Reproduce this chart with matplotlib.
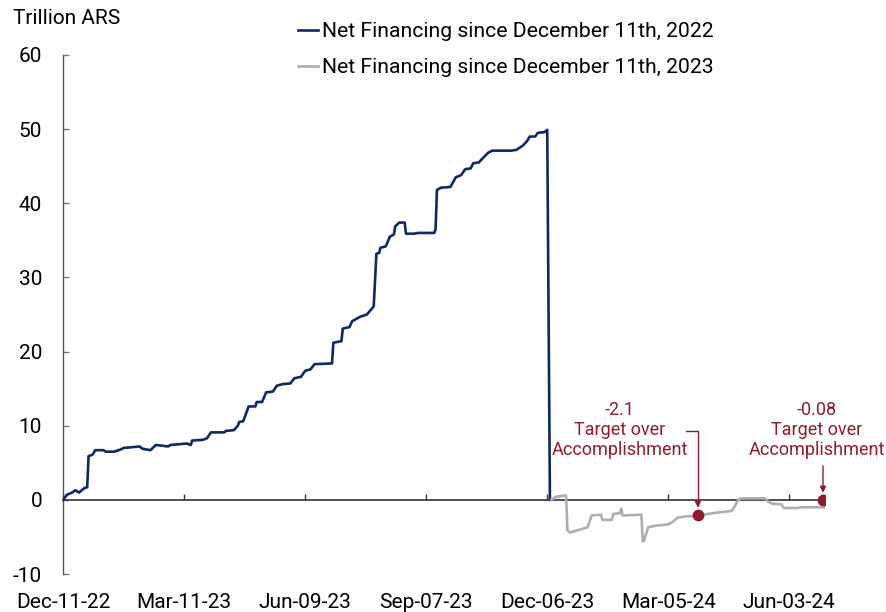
import matplotlib
matplotlib.use("Agg")
import matplotlib.pyplot as plt
import matplotlib.dates as mdates
import pandas as pd

plt.rcParams['font.family'] = ['Roboto', 'DejaVu Sans']
plt.rcParams['axes.unicode_minus'] = False

base_date = "2022-12-11"

# Series 1: Net financing since Dec 11th, 2022 (day offsets from base_date, trillion ARS)
blue_days = [0, 3, 7, 9, 12, 16, 18, 19, 22, 24, 30, 32, 38, 43, 45, 57, 59, 65, 69, 74,
             78, 80, 92, 95, 96, 104, 107, 110, 120, 121, 127, 130, 131, 134, 136, 138, 143, 144, 148, 151,
             156, 159, 163, 169, 172, 177, 180, 184, 187, 200, 201, 207, 208, 213, 215, 221, 226, 231, 233, 235,
             236, 240, 243, 246, 247, 250, 254, 255, 261, 264, 276, 277, 278, 281, 288, 292, 296, 299, 303, 305,
             309, 316, 319, 333, 337, 342, 345, 347, 351, 353, 358, 360, 362]
blue_vals = [0.0, 0.7, 1.0, 1.3, 1.0, 1.6, 1.7, 5.9, 6.1, 6.7, 6.7, 6.5, 6.5, 6.8, 7.0, 7.2, 6.9, 6.7, 7.4, 7.3,
             7.2, 7.4, 7.6, 7.4, 8.0, 8.1, 8.3, 9.1, 9.1, 9.3, 9.4, 10.0, 10.5, 10.6, 11.6, 12.6, 12.6, 13.2, 13.2, 14.5,
             14.6, 15.4, 15.6, 15.7, 16.4, 16.6, 17.4, 17.6, 18.3, 18.4, 21.2, 21.4, 23.1, 23.3, 24.1, 24.7, 25.0, 26.1, 33.2, 33.3,
             34.0, 34.2, 35.5, 35.8, 36.9, 37.4, 37.4, 35.9, 35.9, 36.0, 36.0, 36.5, 41.8, 42.1, 42.2, 43.5, 43.8, 44.6, 44.7, 45.4,
             45.5, 46.8, 47.1, 47.1, 47.2, 47.8, 48.4, 49.0, 49.0, 49.5, 49.6, 49.9, 0.0]

# Series 2: Net financing since Dec 11th, 2023
gray_days = [363, 367, 374, 375, 377, 390, 393, 400, 401, 408, 409, 414, 415, 416, 430, 431, 432, 435, 440, 450,
             453, 457, 462, 472, 479, 487, 497, 499, 502, 504, 522, 524, 527, 534, 536, 546, 549, 566]
gray_vals = [0.0, 0.45, 0.6, -4.1, -4.4, -3.7, -2.1, -2.0, -2.7, -2.7, -1.9, -1.8, -1.2, -2.1, -2.0, -5.6, -5.5, -3.7, -3.5, -3.3,
             -3.0, -2.4, -2.25, -2.16, -1.9, -1.7, -1.5, -1.0, 0.0, 0.2, 0.2, -0.2, -0.5, -0.6, -1.1, -1.1, -1.0, -1.0]

# Targets
target_days = [472, 565]
target_vals = [-2.1, -0.08]
target_labels = ["-2.1\nTarget over\nAccomplishment", "-0.08\nTarget over\nAccomplishment"]

tick_days = [0, 90, 180, 270, 360, 450, 540]
tick_labels = ["Dec-11-22", "Mar-11-23", "Jun-09-23", "Sep-07-23", "Dec-06-23", "Mar-05-24", "Jun-03-24"]

legend_labels = ["Net Financing since December 11th, 2022", "Net Financing since December 11th, 2023"]

NAVY = "#0d2a66"
GRAY = "#aeaeae"
RED = "#921a2f"

b0 = pd.Timestamp(base_date)
to_date = lambda d: b0 + pd.to_timedelta(d, unit="D")
blue_x = [to_date(d) for d in blue_days]
gray_x = [to_date(d) for d in gray_days]
target_x = [to_date(d) for d in target_days]
tick_x = [to_date(d) for d in tick_days]

fig = plt.figure(figsize=(8.86, 6.12), dpi=100)
ax = fig.add_axes([63/886, 1-574/612, (825-63)/886, (574-55)/612])

l1, = ax.plot(blue_x, blue_vals, color=NAVY, lw=1.9, solid_joinstyle='round', zorder=3)
l2, = ax.plot(gray_x, gray_vals, color=GRAY, lw=1.9, solid_joinstyle='round', zorder=3)

ax.set_ylim(-10, 60)
ax.set_yticks(range(-10, 61, 10))
ax.set_xlim(to_date(0), to_date(566.5))

for s in ['top', 'right']:
    ax.spines[s].set_visible(False)
ax.spines['left'].set_color('#555555')
ax.spines['left'].set_linewidth(1.0)
ax.spines['bottom'].set_position(('data', 0))
ax.spines['bottom'].set_color('#333333')
ax.spines['bottom'].set_linewidth(1.2)
ax.spines['bottom'].set_zorder(2)

ax.set_xticks(tick_x)
ax.tick_params(axis='x', direction='in', length=4.5, width=1.0, color='#333333', labelbottom=False)
ax.tick_params(axis='y', direction='in', length=4.5, width=1.0, color='#777777', pad=15, labelsize=15)

sec = ax.secondary_xaxis('bottom')
sec.spines['bottom'].set_visible(False)
sec.set_xticks(mdates.date2num(tick_x), labels=tick_labels)
sec.tick_params(length=0, pad=14, labelsize=15)

# target markers and annotations
ax.plot(target_x, target_vals, 'o', color=RED, ms=7.5, zorder=5, linestyle='none')

ax.text(to_date(414), 9.4, target_labels[0], color=RED, fontsize=13, ha='center', va='center',
        linespacing=1.15)
ax.annotate("", xy=(target_x[0], target_vals[0]), xycoords='data',
            xytext=(-8.6, 61), textcoords='offset points',
            arrowprops=dict(arrowstyle='-|>', color=RED, lw=1.0, shrinkA=0, shrinkB=5.5,
                            mutation_scale=9,
                            connectionstyle='angle,angleA=0,angleB=90,rad=0'))

ax.text(to_date(560.5), 9.4, target_labels[1], color=RED, fontsize=13, ha='center', va='center',
        linespacing=1.15)
ax.annotate("", xy=(target_x[1], target_vals[1]), xycoords='data',
            xytext=(0, 25), textcoords='offset points',
            arrowprops=dict(arrowstyle='-|>', color=RED, lw=1.0, shrinkA=0, shrinkB=5.5,
                            mutation_scale=9))

fig.text(13/886, 1-19/612, "Trillion ARS", fontsize=15, ha='left', va='center')

fig.legend([l1, l2], legend_labels, loc='upper left', bbox_to_anchor=(298/886, 1-22/612),
           frameon=False, fontsize=15.2, handlelength=0.95, handletextpad=0.2,
           labelspacing=0.8, borderpad=0, borderaxespad=0)

fig.savefig("out.png", dpi=100)
